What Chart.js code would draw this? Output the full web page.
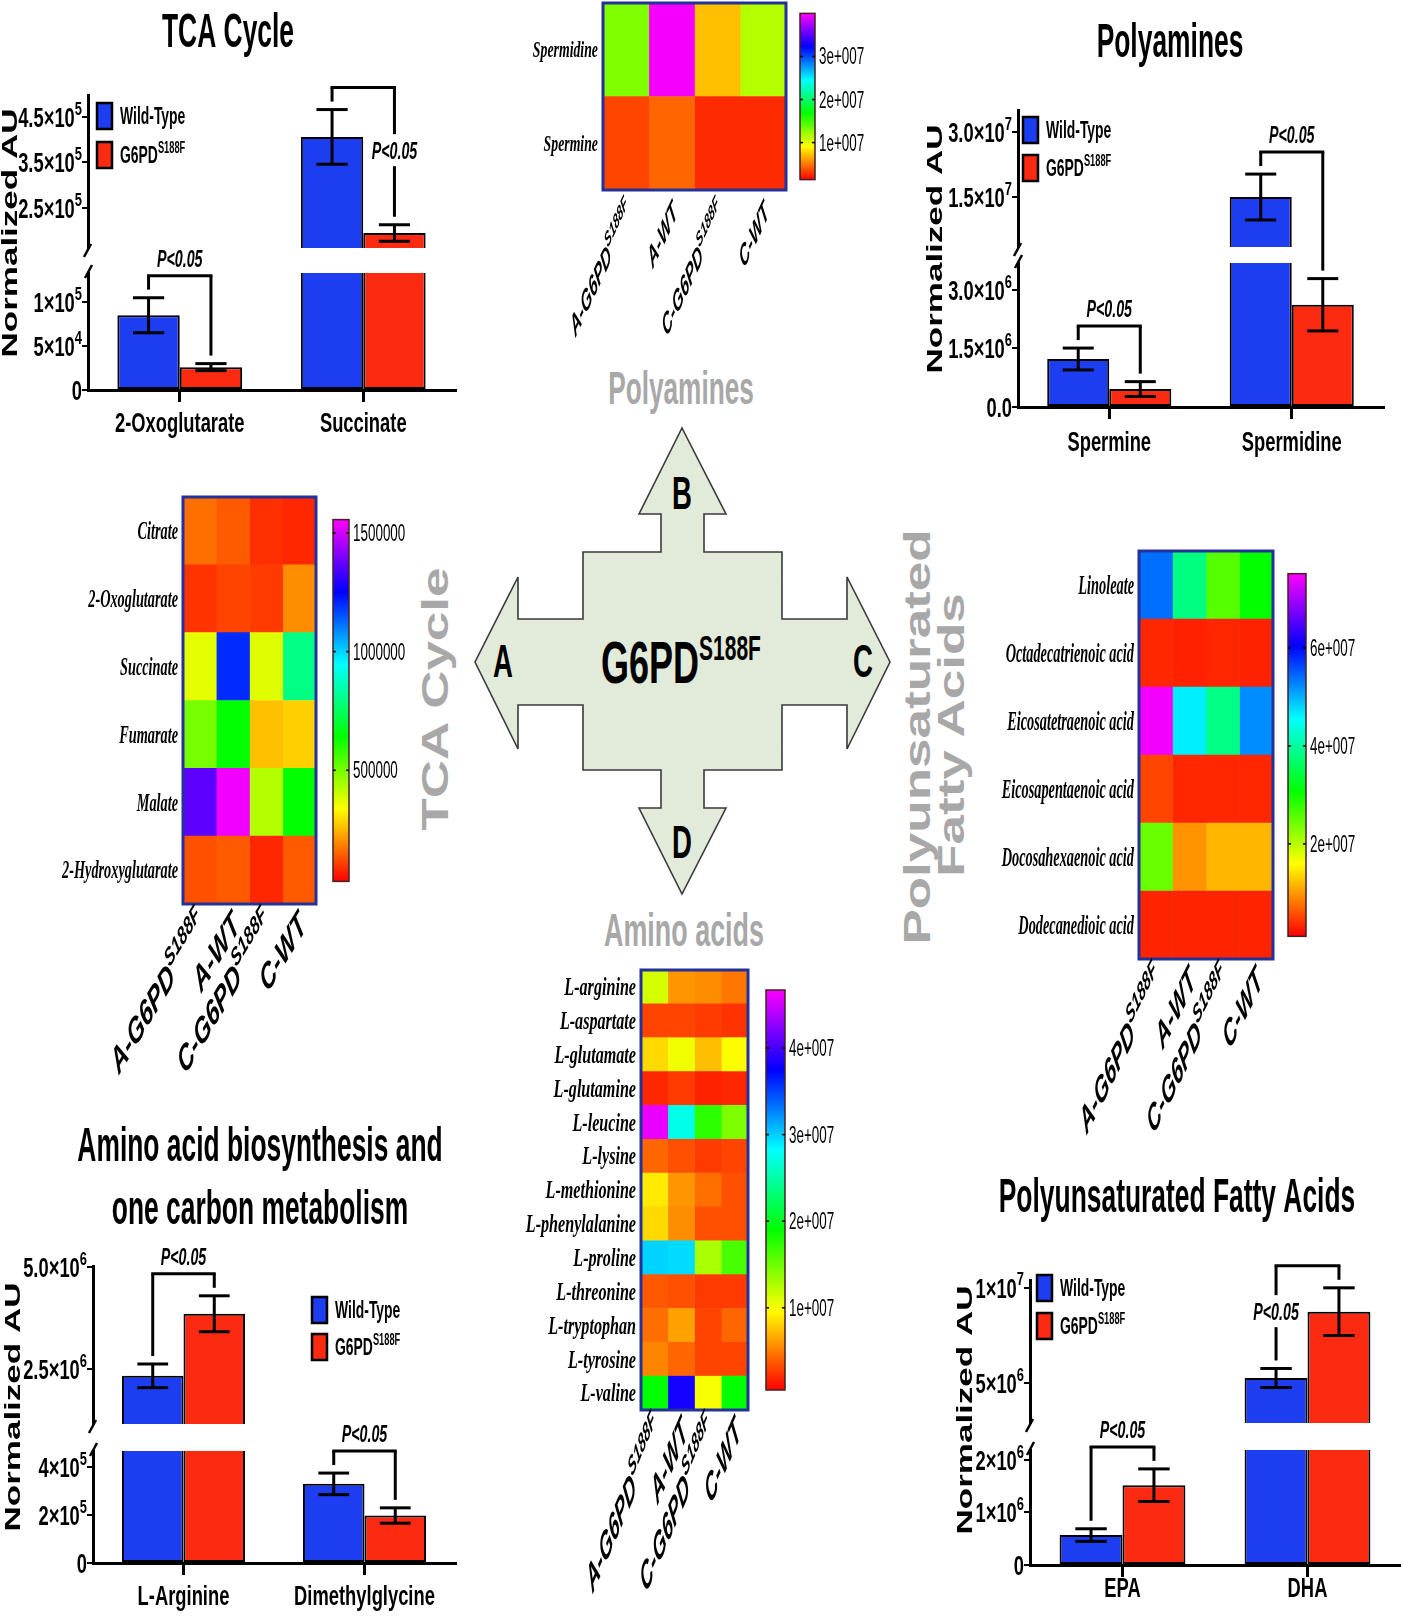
<!DOCTYPE html>
<html>
<head>
<meta charset="utf-8">
<script src="https://cdn.jsdelivr.net/npm/chart.js@4.4.1/dist/chart.umd.min.js"></script>
<style>
html, body { margin: 0; padding: 0; background: #fff; }
#page { position: relative; width: 1401px; height: 1619px; overflow: hidden; background: #fff; }
#page canvas, #page svg { position: absolute; }
</style>
</head>
<body>
<div id="page">
<svg width="1401" height="1619" viewBox="0 0 1401 1619" style="left:0;top:0" font-family="'Liberation Sans', Arial, sans-serif" font-weight="bold">
  <polygon points="682,428 726,514 704,514 704,552 782,552 782,619 847,619 847,577 890,662 847,749 847,705 782,705 782,770 704,770 704,808 726,808 682,894 639,808 661,808 661,770 583,770 583,705 518,705 518,749 475,662 518,577 518,619 583,619 583,552 661,552 661,514 639,514" fill="#e2ebda" stroke="#3a3a3a" stroke-width="1.6"/>
  <text transform="translate(503,677) scale(0.6,1)" text-anchor="middle" font-size="46">A</text>
  <text transform="translate(682,509) scale(0.6,1)" text-anchor="middle" font-size="46">B</text>
  <text transform="translate(863,677) scale(0.6,1)" text-anchor="middle" font-size="46">C</text>
  <text transform="translate(682,858) scale(0.6,1)" text-anchor="middle" font-size="46">D</text>
  <text transform="translate(681,683) scale(0.6,1)" text-anchor="middle" font-size="60">G6PD<tspan font-size="35" dy="-23">S188F</tspan></text>
  <g fill="#a8a8a8">
    <text transform="translate(681,404) scale(0.57,1)" text-anchor="middle" font-size="46">Polyamines</text>
    <text transform="translate(684,946) scale(0.585,1)" text-anchor="middle" font-size="46">Amino acids</text>
    <text transform="translate(436,699) scale(0.68,1) rotate(-90)" text-anchor="middle" dominant-baseline="central" font-size="53">TCA Cycle</text>
    <text transform="translate(918,737) scale(0.68,1) rotate(-90)" text-anchor="middle" dominant-baseline="central" font-size="53">Polyunsaturated</text>
    <text transform="translate(952,735) scale(0.68,1) rotate(-90)" text-anchor="middle" dominant-baseline="central" font-size="53">Fatty Acids</text>
  </g>
</svg>
<canvas id="tcaBar" style="left:0;top:0" width="470" height="440"></canvas>
<canvas id="polyBar" style="left:880px;top:0" width="521" height="460"></canvas>
<canvas id="aminoBar" style="left:0;top:1090px" width="470" height="529"></canvas>
<canvas id="pufaBar" style="left:930px;top:1140px" width="471" height="479"></canvas>
<canvas id="polyHeat" style="left:520px;top:0" width="360" height="360"></canvas>
<canvas id="tcaHeat" style="left:0;top:470px" width="440" height="620"></canvas>
<canvas id="pufaHeat" style="left:960px;top:500px" width="441" height="640"></canvas>
<canvas id="aminoHeat" style="left:500px;top:930px" width="360" height="689"></canvas>
</div>
<script>
// ---------- bar chart data (normalized AU, mean and SEM) ----------
const tcaMetabolites = ['2-Oxoglutarate', 'Succinate'];
const tcaWildType = [85000, 406000];
const tcaWildTypeSem = [20000, 60000];
const tcaMutant = [26000, 195000];
const tcaMutantSem = [4000, 18000];
const tcaLowAxis = [0, 133000];
const tcaHighAxis = [162000, 498000];
const tcaLowTicks = [0, 50000, 100000];
const tcaLowTickLabels = ['0', '5×10^4', '1×10^5'];
const tcaHighTicks = [250000, 350000, 450000];
const tcaHighTickLabels = ['2.5×10^5', '3.5×10^5', '4.5×10^5'];
const tcaPValues = ['P<0.05', 'P<0.05'];

const polyMetabolites = ['Spermine', 'Spermidine'];
const polyWildType = [1230000, 15000000];
const polyWildTypeSem = [280000, 5300000];
const polyMutant = [460000, 2620000];
const polyMutantSem = [190000, 670000];
const polyLowAxis = [0, 3690000];
const polyHighAxis = [3460000, 35100000];
const polyLowTicks = [0, 1500000, 3000000];
const polyLowTickLabels = ['0.0', '1.5×10^6', '3.0×10^6'];
const polyHighTicks = [15000000, 30000000];
const polyHighTickLabels = ['1.5×10^7', '3.0×10^7'];
const polyPValues = ['P<0.05', 'P<0.05'];

const aminoMetabolites = ['L-Arginine', 'Dimethylglycine'];
const aminoWildType = [2330000, 330000];
const aminoWildTypeSem = [290000, 45000];
const aminoMutant = [3850000, 198000];
const aminoMutantSem = [440000, 32000];
const aminoLowAxis = [0, 467000];
const aminoHighAxis = [1150000, 5020000];
const aminoLowTicks = [0, 200000, 400000];
const aminoLowTickLabels = ['0', '2×10^5', '4×10^5'];
const aminoHighTicks = [2500000, 5000000];
const aminoHighTickLabels = ['2.5×10^6', '5.0×10^6'];
const aminoPValues = ['P<0.05', 'P<0.05'];

const pufaMetabolites = ['EPA', 'DHA'];
const pufaWildType = [570000, 5260000];
const pufaWildTypeSem = [120000, 500000];
const pufaMutant = [1520000, 8740000];
const pufaMutantSem = [310000, 1250000];
const pufaLowAxis = [0, 2190000];
const pufaHighAxis = [2900000, 10400000];
const pufaLowTicks = [0, 1000000, 2000000];
const pufaLowTickLabels = ['0', '1×10^6', '2×10^6'];
const pufaHighTicks = [5000000, 10000000];
const pufaHighTickLabels = ['5×10^6', '1×10^7'];
const pufaPValues = ['P<0.05', 'P<0.05'];

// ---------- heatmap data (rows = metabolites, columns follow heatGroups) ----------
const heatGroups = ['A-G6PD^S188F', 'A-WT', 'C-G6PD^S188F', 'C-WT'];

const polyHeatRows = ['Spermidine', 'Spermine'];
const polyHeatValues = [
  [13000000, 39700000, 7200000, 11400000],
  [3500000, 4500000, 2700000, 2700000]
];
const polyHeatRange = [1400000, 40000000];
const polyHeatTicks = [10000000, 20000000, 30000000];
const polyHeatTickLabels = ['1e+007', '2e+007', '3e+007'];

const tcaHeatRows = ['Citrate', '2-Oxoglutarate', 'Succinate', 'Fumarate', 'Malate', '2-Hydroxyglutarate'];
const tcaHeatValues = [
  [164000, 139000, 88000, 78000],
  [93000, 113000, 103000, 200000],
  [367000, 1200000, 377000, 799000],
  [499000, 642000, 261000, 281000],
  [1363000, 1540000, 428000, 642000],
  [129000, 139000, 78000, 139000]
];
const tcaHeatRange = [32000, 1556000];
const tcaHeatTicks = [500000, 1000000, 1500000];
const tcaHeatTickLabels = ['500000', '1000000', '1500000'];

const pufaHeatRows = ['Linoleate', 'Octadecatrienoic acid', 'Eicosatetraenoic acid', 'Eicosapentaenoic acid', 'Docosahexaenoic acid', 'Dodecanedioic acid'];
const pufaHeatValues = [
  [54000000, 38200000, 25800000, 30700000],
  [3300000, 3000000, 3300000, 3100000],
  [74500000, 46500000, 38400000, 52200000],
  [5100000, 3300000, 3300000, 3300000],
  [24600000, 9700000, 11700000, 11700000],
  [3200000, 3200000, 3200000, 3200000]
];
const pufaHeatRange = [1100000, 75200000];
const pufaHeatTicks = [20000000, 40000000, 60000000];
const pufaHeatTickLabels = ['2e+007', '4e+007', '6e+007'];

const aminoHeatRows = ['L-arginine', 'L-aspartate', 'L-glutamate', 'L-glutamine', 'L-leucine', 'L-lysine', 'L-methionine', 'L-phenylalanine', 'L-proline', 'L-threonine', 'L-tryptophan', 'L-tyrosine', 'L-valine'];
const aminoHeatValues = [
  [11300000, 5900000, 5600000, 4800000],
  [2960000, 2960000, 2660000, 2350000],
  [8350000, 10200000, 7400000, 9700000],
  [1900000, 2660000, 1730000, 1900000],
  [45900000, 27500000, 17400000, 14400000],
  [4200000, 3400000, 2660000, 2960000],
  [8970000, 5900000, 4500000, 3400000],
  [8350000, 5600000, 3400000, 3400000],
  [29800000, 29500000, 12800000, 16400000],
  [3700000, 3400000, 2660000, 2660000],
  [4500000, 6350000, 2960000, 4200000],
  [5300000, 4200000, 2960000, 2960000],
  [19000000, 38200000, 10000000, 19000000]
];
const aminoHeatRange = [500000, 46700000];
const aminoHeatTicks = [10000000, 20000000, 30000000, 40000000];
const aminoHeatTickLabels = ['1e+007', '2e+007', '3e+007', '4e+007'];

// ---------- styling helpers ----------
const BLUE = '#1c3df0';
const RED = '#fd2a12';
const SANS = '"Liberation Sans", Arial, Helvetica, sans-serif';
const SERIF = '"Liberation Serif", "Times New Roman", Times, serif';

// the original figure is squeezed horizontally, so text gets an x scale (sx)
function drawText(ctx, str, x, y, o) {
  const size = o.size;
  const k = str.indexOf('^');
  const parts = k < 0 ? [[str, false]] : [[str.slice(0, k), false], [str.slice(k + 1), true]];
  const supSize = Math.round(size * (o.supScale || 0.62));
  const supRise = size * (o.supRise || 0.42);
  const fontFor = sup => `${o.style || 'normal'} ${o.weight || 'bold'} ${sup ? supSize : size}px ${o.family || SANS}`;
  ctx.save();
  ctx.translate(x, y);
  ctx.scale(o.sx || 1, 1);
  if (o.rot) ctx.rotate(o.rot);
  ctx.textBaseline = o.baseline || 'alphabetic';
  ctx.textAlign = 'left';
  ctx.fillStyle = o.color || '#000';
  let total = 0;
  const widths = parts.map(([t, sup]) => {
    ctx.font = fontFor(sup);
    const w = ctx.measureText(t).width;
    total += w;
    return w;
  });
  let cx = o.align === 'right' ? -total : o.align === 'center' ? -total / 2 : 0;
  parts.forEach(([t, sup], i) => {
    ctx.font = fontFor(sup);
    ctx.fillText(t, cx, sup ? -supRise : 0);
    cx += widths[i];
  });
  ctx.restore();
}

function line(ctx, x1, y1, x2, y2) {
  ctx.beginPath();
  ctx.moveTo(x1, y1);
  ctx.lineTo(x2, y2);
  ctx.stroke();
}

function heatColor(t) {
  return `hsl(${(300 * t).toFixed(1)}, 100%, 50%)`;
}

// ---------- broken-axis bar panels ----------
const panels = {
  tcaBar: {
    categories: tcaMetabolites, wt: tcaWildType, wtErr: tcaWildTypeSem, mut: tcaMutant, mutErr: tcaMutantSem,
    lowAxis: tcaLowAxis, highAxis: tcaHighAxis, lowTicks: tcaLowTicks, lowLabels: tcaLowTickLabels,
    highTicks: tcaHighTicks, highLabels: tcaHighTickLabels, pValues: tcaPValues, pSide: ['top', 'right'],
    title: ['TCA Cycle'], titleX: 228, titleY: 47, titleLead: 0,
    padding: {top: 95, right: 15, bottom: 0, left: 0}, yWidth: 88, xHeight: 50, segments: [153, 25, 117],
    yTitle: [11, 233], catY: 432, legendX: 97, legendY: [103, 142]
  },
  polyBar: {
    categories: polyMetabolites, wt: polyWildType, wtErr: polyWildTypeSem, mut: polyMutant, mutErr: polyMutantSem,
    lowAxis: polyLowAxis, highAxis: polyHighAxis, lowTicks: polyLowTicks, lowLabels: polyLowTickLabels,
    highTicks: polyHighTicks, highLabels: polyHighTickLabels, pValues: polyPValues, pSide: ['top', 'top'],
    title: ['Polyamines'], titleX: 290, titleY: 57, titleLead: 0,
    padding: {top: 110, right: 18, bottom: 0, left: 0}, yWidth: 138, xHeight: 53, segments: [137, 16, 144],
    yTitle: [56, 249], catY: 451, legendX: 143, legendY: [117, 155]
  },
  aminoBar: {
    categories: aminoMetabolites, wt: aminoWildType, wtErr: aminoWildTypeSem, mut: aminoMutant, mutErr: aminoMutantSem,
    lowAxis: aminoLowAxis, highAxis: aminoHighAxis, lowTicks: aminoLowTicks, lowLabels: aminoLowTickLabels,
    highTicks: aminoHighTicks, highLabels: aminoHighTickLabels, pValues: aminoPValues, pSide: ['top', 'top'],
    title: ['Amino acid biosynthesis and', 'one carbon metabolism'], titleX: 260, titleY: 71, titleLead: 63,
    padding: {top: 176, right: 15, bottom: 0, left: 0}, yWidth: 93, xHeight: 56, segments: [158, 27, 112],
    yTitle: [14, 317], catY: 515, legendX: 312, legendY: [207, 244]
  },
  pufaBar: {
    categories: pufaMetabolites, wt: pufaWildType, wtErr: pufaWildTypeSem, mut: pufaMutant, mutErr: pufaMutantSem,
    lowAxis: pufaLowAxis, highAxis: pufaHighAxis, lowTicks: pufaLowTicks, lowLabels: pufaLowTickLabels,
    highTicks: pufaHighTicks, highLabels: pufaHighTickLabels, pValues: pufaPValues, pSide: ['top', 'left'],
    title: ['Polyunsaturated Fatty Acids'], titleX: 247, titleY: 72, titleLead: 0,
    padding: {top: 140, right: 1, bottom: 0, left: 0}, yWidth: 100, xHeight: 54, segments: [143, 27, 115],
    yTitle: [36, 270], catY: 457, legendX: 107, legendY: [135, 173]
  }
};

const barDecor = {
  id: 'barDecor',
  afterDraw(chart) {
    const p = panels[chart.canvas.id];
    const ctx = chart.ctx;
    const lo = chart.scales.yLow, hi = chart.scales.yHigh, xs = chart.scales.x;
    const toPx = v => {
      if (v <= p.lowAxis[1]) return lo.getPixelForValue(v);
      if (v >= p.highAxis[0]) return hi.getPixelForValue(v);
      const t = (v - p.lowAxis[1]) / (p.highAxis[0] - p.lowAxis[1]);
      return lo.top + (hi.bottom - lo.top) * t;
    };
    ctx.save();
    ctx.strokeStyle = '#000';
    ctx.lineCap = 'butt';

    p.title.forEach((t, k) => drawText(ctx, t, p.titleX, p.titleY + k * p.titleLead, {size: 48, sx: 0.55, align: 'center'}));
    drawText(ctx, 'Normalized AU', p.yTitle[0], p.yTitle[1], {size: 35, sx: 0.62, rot: -Math.PI / 2, align: 'center', baseline: 'middle'});

    const tickStyle = {size: 27, sx: 0.68, align: 'right', supScale: 0.7, supRise: 0.45};
    [[lo, p.lowTicks, p.lowLabels], [hi, p.highTicks, p.highLabels]].forEach(([sc, vals, labels]) => {
      vals.forEach((v, k) => drawText(ctx, labels[k], sc.right - 6, sc.getPixelForValue(v) + 10, tickStyle));
    });
    p.categories.forEach((c, i) => drawText(ctx, c, xs.getPixelForValue(i), p.catY, {size: 27, sx: 0.68, align: 'center'}));

    // axis break marks
    const ax = lo.right;
    ctx.lineWidth = 2.5;
    line(ctx, ax + 3, hi.bottom - 4, ax - 4, hi.bottom + 9);
    line(ctx, ax + 4, lo.top - 8, ax - 3, lo.top + 5);

    // error bars
    ctx.lineWidth = 3;
    [[0, p.wt, p.wtErr], [1, p.mut, p.mutErr]].forEach(([d, vals, errs]) => {
      chart.getDatasetMeta(d).data.forEach((el, i) => {
        const yT = toPx(vals[i] + errs[i]);
        const yB = toPx(vals[i] - errs[i]);
        const hw = el.width / 4;
        line(ctx, el.x, yT, el.x, yB);
        line(ctx, el.x - hw, yT, el.x + hw, yT);
        line(ctx, el.x - hw, yB, el.x + hw, yB);
      });
    });

    // significance brackets
    const pStyle = {size: 23, sx: 0.62, align: 'center', style: 'italic'};
    p.categories.forEach((c, i) => {
      const xl = chart.getDatasetMeta(0).data[i].x;
      const xr = chart.getDatasetMeta(1).data[i].x;
      const eL = toPx(p.wt[i] + p.wtErr[i]);
      const eR = toPx(p.mut[i] + p.mutErr[i]);
      const top = Math.min(eL, eR) - 22;
      const lb = eL - 8, rb = eR - 8;
      line(ctx, xl - 1.5, top, xr + 1.5, top);
      const side = p.pSide[i];
      if (side === 'right') {
        const ty = (top + rb) / 2;
        line(ctx, xl, top, xl, lb);
        line(ctx, xr, top, xr, ty - 18);
        line(ctx, xr, ty + 14, xr, rb);
        drawText(ctx, p.pValues[i], xr, ty + 7, pStyle);
      } else if (side === 'left') {
        const ty = (top + lb) / 2;
        line(ctx, xr, top, xr, rb);
        line(ctx, xl, top, xl, ty - 18);
        line(ctx, xl, ty + 14, xl, lb);
        drawText(ctx, p.pValues[i], xl, ty + 7, pStyle);
      } else {
        line(ctx, xl, top, xl, lb);
        line(ctx, xr, top, xr, rb);
        drawText(ctx, p.pValues[i], (xl + xr) / 2, top - 9, pStyle);
      }
    });

    // legend
    [0, 1].forEach(k => {
      const ds = chart.data.datasets[k];
      const y = p.legendY[k];
      ctx.fillStyle = ds.backgroundColor;
      ctx.fillRect(p.legendX, y, 15, 26);
      ctx.lineWidth = 2.5;
      ctx.strokeRect(p.legendX, y, 15, 26);
      drawText(ctx, ds.label, p.legendX + 23, y + 21, {size: 24, sx: 0.58, supScale: 0.68});
    });
    ctx.restore();
  }
};

function makeBrokenBars(id) {
  const p = panels[id];
  const lowMax = p.lowAxis[1], highMin = p.highAxis[0];
  const lowPart = vals => vals.map(v => Math.min(v, lowMax));
  const highPart = vals => vals.map(v => (v > highMin ? [highMin, v] : null));
  const lowBorder = vals => c => (vals[c.dataIndex] > lowMax ? {top: 0, right: 2, bottom: 2, left: 2} : 2);
  const highBorder = {top: 2, right: 2, bottom: 0, left: 2};
  const common = {borderColor: '#000', borderSkipped: false, categoryPercentage: 0.68, barPercentage: 1};
  const yAxis = extra => Object.assign({
    type: 'linear', position: 'left', stack: 'value', stacked: false,
    grid: {display: true, drawOnChartArea: false, drawTicks: true, tickLength: 6, color: '#000', lineWidth: 2},
    border: {display: true, color: '#000', width: 3},
    ticks: {display: false},
    afterFit: s => { s.width = p.yWidth; }
  }, extra);

  return new Chart(document.getElementById(id), {
    type: 'bar',
    data: {
      labels: p.categories,
      datasets: [
        Object.assign({label: 'Wild-Type', data: lowPart(p.wt), yAxisID: 'yLow', stack: 'wt', backgroundColor: BLUE, borderWidth: lowBorder(p.wt)}, common),
        Object.assign({label: 'G6PD^S188F', data: lowPart(p.mut), yAxisID: 'yLow', stack: 'mut', backgroundColor: RED, borderWidth: lowBorder(p.mut)}, common),
        Object.assign({label: 'Wild-Type', data: highPart(p.wt), yAxisID: 'yHigh', stack: 'wt', backgroundColor: BLUE, borderWidth: highBorder}, common),
        Object.assign({label: 'G6PD^S188F', data: highPart(p.mut), yAxisID: 'yHigh', stack: 'mut', backgroundColor: RED, borderWidth: highBorder}, common)
      ]
    },
    options: {
      responsive: false,
      animation: false,
      devicePixelRatio: 1,
      layout: {padding: p.padding},
      plugins: {legend: {display: false}, tooltip: {enabled: false}, title: {display: false}},
      scales: {
        x: {
          type: 'category', stacked: true, offset: true,
          grid: {display: true, drawOnChartArea: false, drawTicks: true, tickLength: 12, offset: false, color: '#000', lineWidth: 3},
          border: {display: true, color: '#000', width: 3},
          ticks: {display: false},
          afterFit: s => { s.height = p.xHeight; }
        },
        yHigh: yAxis({
          weight: 3, stackWeight: p.segments[0], min: p.highAxis[0], max: p.highAxis[1],
          afterBuildTicks: s => { s.ticks = p.highTicks.map(v => ({value: v})); }
        }),
        yGap: yAxis({
          weight: 2, stackWeight: p.segments[1], min: 0, max: 1,
          grid: {display: false}, border: {display: false},
          afterBuildTicks: s => { s.ticks = []; }
        }),
        yLow: yAxis({
          weight: 1, stackWeight: p.segments[2], min: p.lowAxis[0], max: p.lowAxis[1],
          afterBuildTicks: s => { s.ticks = p.lowTicks.map(v => ({value: v})); }
        })
      }
    },
    plugins: [barDecor]
  });
}

// ---------- heatmaps ----------
const heatPanels = {
  polyHeat: {
    rows: polyHeatRows, values: polyHeatValues, range: polyHeatRange, ticks: polyHeatTicks, tickLabels: polyHeatTickLabels,
    padding: {top: 3, right: 0, bottom: 0, left: 0}, yWidth: 83, cbWidth: 94, xHeight: 170,
    rowSize: 23, rowSx: 0.6, colSize: 30, colSx: 0.46, colDy: 18, cbGap: 14, barW: 15
  },
  tcaHeat: {
    rows: tcaHeatRows, values: tcaHeatValues, range: tcaHeatRange, ticks: tcaHeatTicks, tickLabels: tcaHeatTickLabels,
    padding: {top: 27, right: 0, bottom: 0, left: 0}, yWidth: 183, cbWidth: 124, xHeight: 186,
    rowSize: 26, rowSx: 0.55, colSize: 36, colSx: 0.6, colDy: 16, cbGap: 17, barW: 16
  },
  pufaHeat: {
    rows: pufaHeatRows, values: pufaHeatValues, range: pufaHeatRange, ticks: pufaHeatTicks, tickLabels: pufaHeatTickLabels,
    padding: {top: 51, right: 0, bottom: 0, left: 0}, yWidth: 179, cbWidth: 128, xHeight: 181,
    rowSize: 27, rowSx: 0.53, colSize: 37, colSx: 0.5, colDy: 16, cbGap: 15, barW: 18
  },
  aminoHeat: {
    rows: aminoHeatRows, values: aminoHeatValues, range: aminoHeatRange, ticks: aminoHeatTicks, tickLabels: aminoHeatTickLabels,
    padding: {top: 40, right: 0, bottom: 0, left: 0}, yWidth: 141, cbWidth: 112, xHeight: 209,
    rowSize: 26, rowSx: 0.62, colSize: 39, colSx: 0.43, colDy: 16, cbGap: 18, barW: 19
  }
};

const heatDecor = {
  id: 'heatDecor',
  afterDraw(chart) {
    const h = heatPanels[chart.canvas.id];
    const ctx = chart.ctx;
    const a = chart.chartArea;
    const ys = chart.scales.y, xs = chart.scales.x, cb = chart.scales.cb;
    ctx.save();
    ctx.strokeStyle = '#23319b';
    ctx.lineWidth = 3;
    ctx.strokeRect(a.left, a.top, a.right - a.left, a.bottom - a.top);

    chart.data.labels.forEach((r, i) => drawText(ctx, r, a.left - 5, ys.getPixelForValue(i) + h.rowSize * 0.32,
      {size: h.rowSize, sx: h.rowSx, align: 'right', family: SERIF, style: 'italic'}));

    heatGroups.forEach((g, j) => drawText(ctx, g, xs.getPixelForValue(j + 0.5) + 4, a.bottom + h.colDy,
      {size: h.colSize, sx: h.colSx, rot: -Math.PI / 4, align: 'right', style: 'italic', baseline: 'middle', supScale: 0.7, supRise: 0.36}));

    // colour bar drawn along its own linear scale
    const x0 = cb.left + h.cbGap;
    const yTop = cb.getPixelForValue(h.range[1]);
    const yBot = cb.getPixelForValue(h.range[0]);
    const grad = ctx.createLinearGradient(0, yBot, 0, yTop);
    for (let k = 0; k <= 20; k++) grad.addColorStop(k / 20, heatColor(k / 20));
    ctx.fillStyle = grad;
    ctx.fillRect(x0, yTop, h.barW, yBot - yTop);
    ctx.strokeStyle = '#402020';
    ctx.lineWidth = 1.5;
    ctx.strokeRect(x0, yTop, h.barW, yBot - yTop);
    ctx.strokeStyle = '#000';
    ctx.lineWidth = 1.5;
    h.ticks.forEach((v, k) => {
      const y = cb.getPixelForValue(v);
      line(ctx, x0, y, x0 + 3, y);
      line(ctx, x0 + h.barW - 3, y, x0 + h.barW, y);
      drawText(ctx, h.tickLabels[k], x0 + h.barW + 4, y + 8, {size: 24, sx: 0.56, weight: 'normal'});
    });
    ctx.restore();
  }
};

function makeHeatmap(id) {
  const h = heatPanels[id];
  const norm = v => Math.max(0, Math.min(1, (v - h.range[0]) / (h.range[1] - h.range[0])));
  const hidden = {ticks: {display: false}, grid: {display: false}, border: {display: false}};
  return new Chart(document.getElementById(id), {
    type: 'bar',
    data: {
      labels: h.rows,
      datasets: heatGroups.map((g, j) => ({
        label: g,
        data: h.rows.map(() => 1),
        backgroundColor: h.values.map(r => heatColor(norm(r[j]))),
        borderWidth: 0,
        barPercentage: 1,
        categoryPercentage: 1
      }))
    },
    options: {
      indexAxis: 'y',
      responsive: false,
      animation: false,
      devicePixelRatio: 1,
      layout: {padding: h.padding},
      plugins: {legend: {display: false}, tooltip: {enabled: false}},
      scales: {
        x: Object.assign({type: 'linear', stacked: true, min: 0, max: heatGroups.length, afterFit: s => { s.height = h.xHeight; }}, hidden),
        y: Object.assign({type: 'category', stacked: true, afterFit: s => { s.width = h.yWidth; }}, hidden),
        cb: Object.assign({type: 'linear', axis: 'y', position: 'right', min: h.range[0], max: h.range[1], afterFit: s => { s.width = h.cbWidth; }}, hidden)
      }
    },
    plugins: [heatDecor]
  });
}

['tcaBar', 'polyBar', 'aminoBar', 'pufaBar'].forEach(makeBrokenBars);
['polyHeat', 'tcaHeat', 'pufaHeat', 'aminoHeat'].forEach(makeHeatmap);
</script>
</body>
</html>
